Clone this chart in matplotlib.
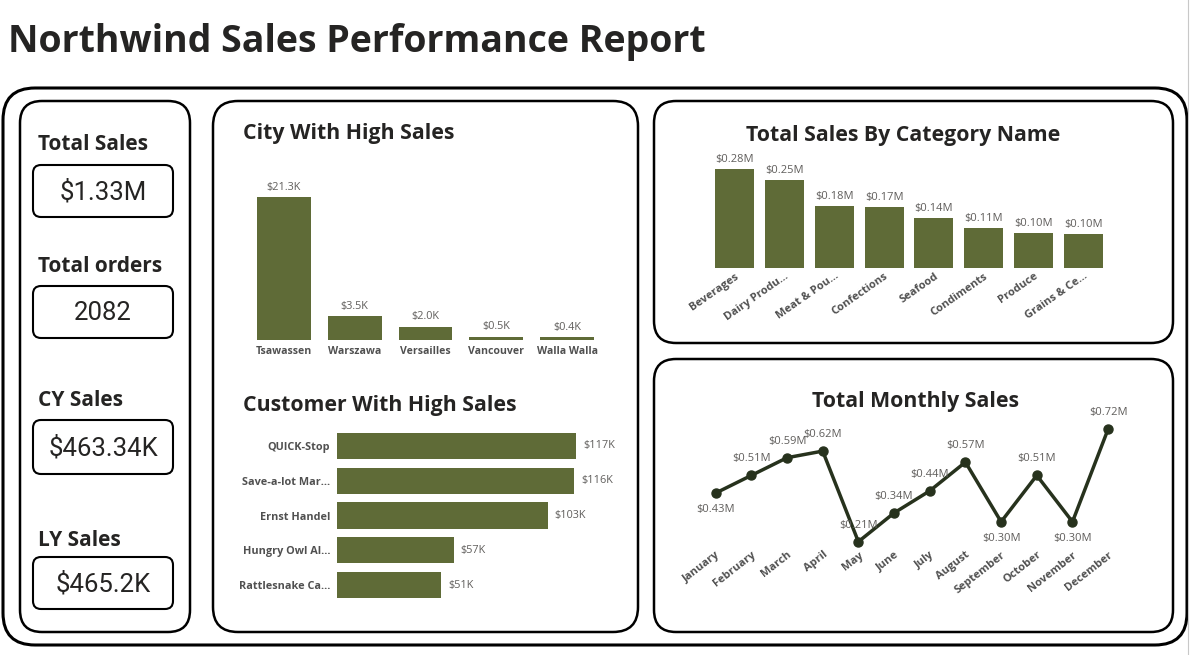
import matplotlib.pyplot as plt
from matplotlib.patches import FancyBboxPatch

plt.rcParams['font.family'] = ['Open Sans', 'DejaVu Sans']

W, H = 1199, 655

# ---- data ----
kpi_labels = ['Total Sales', 'Total orders', 'CY Sales', 'LY Sales']
kpi_values = ['$1.33M', '2082', '$463.34K', '$465.2K']

cities = ['Tsawassen', 'Warszawa', 'Versailles', 'Vancouver', 'Walla Walla']
city_sales = [21.3, 3.5, 2.0, 0.5, 0.4]  # $K

customers = ['QUICK-Stop', 'Save-a-lot Mar...', 'Ernst Handel',
             'Hungry Owl Al...', 'Rattlesnake Ca...']
customer_sales = [117, 116, 103, 57, 51]  # $K

categories = ['Beverages', 'Dairy Produ...', 'Meat & Pou...', 'Confections',
              'Seafood', 'Condiments', 'Produce', 'Grains & Ce...']
category_sales = [0.28, 0.248, 0.176, 0.173, 0.141, 0.112, 0.100, 0.096]  # $M

months = ['January', 'February', 'March', 'April', 'May', 'June', 'July',
          'August', 'September', 'October', 'November', 'December']
monthly_sales = [0.43, 0.51, 0.59, 0.62, 0.21, 0.34, 0.44, 0.57, 0.30, 0.51, 0.30, 0.72]  # $M

BAR = '#5f6b37'
LINE = '#27321d'
TITLE = '#252423'
GREY = '#605e5c'
LABEL = '#505050'

fig = plt.figure(figsize=(W / 100, H / 100), dpi=100)

# background axes in pixel units (origin top-left)
bg = fig.add_axes([0, 0, 1, 1], zorder=0)
bg.set_xlim(0, W)
bg.set_ylim(H, 0)
bg.axis('off')


def rbox(x0, y0, x1, y1, r, lw):
    bg.add_patch(FancyBboxPatch((x0, y0), x1 - x0, y1 - y0,
                                boxstyle=f'round,pad=0,rounding_size={r}',
                                fc='none', ec='black', lw=lw))


def px_axes(x0, y0, x1, y1):
    ax = fig.add_axes([x0 / W, 1 - y1 / H, (x1 - x0) / W, (y1 - y0) / H], zorder=1)
    ax.patch.set_alpha(0)
    for s in ax.spines.values():
        s.set_visible(False)
    return ax


# frames
bg.plot([1188, 1188], [0, H], color='#c8c8c8', lw=0.8)
rbox(3, 88, 1187, 645, 32, 2.2)
rbox(20, 101, 190, 632, 22, 1.8)
rbox(213, 101, 638, 632, 25, 1.8)
rbox(654, 101, 1173, 343, 22, 1.8)
rbox(654, 359, 1173, 632, 22, 1.8)

bg.text(8, 42, 'Northwind Sales Performance Report', fontsize=27, fontweight='bold',
        color=TITLE, ha='left', va='center')

# KPI cards
label_y = [145, 267, 401, 540]
card_y = [(165, 217), (286, 338), (420, 474), (557, 609)]
for lab, val, ly, (c0, c1) in zip(kpi_labels, kpi_values, label_y, card_y):
    bg.text(38, ly, lab, fontsize=15, fontweight='bold', color=TITLE, ha='left', va='center')
    rbox(33, c0, 173, c1, 8, 1.5)
    bg.text(103, (c0 + c1) / 2 + 1, val, fontsize=18.5, family='Roboto', color=TITLE,
            ha='center', va='center')

# panel titles
bg.text(243, 133, 'City With High Sales', fontsize=15.3, fontweight='bold', color=TITLE,
        ha='left', va='center')
bg.text(243, 405, 'Customer With High Sales', fontsize=15.3, fontweight='bold', color=TITLE,
        ha='left', va='center')
bg.text(903, 135, 'Total Sales By Category Name', fontsize=15.3, fontweight='bold', color=TITLE,
        ha='center', va='center')
bg.text(915, 402, 'Total Monthly Sales', fontsize=15.3, fontweight='bold', color=TITLE,
        ha='center', va='center')

# City with high sales
ax = px_axes(248.5, 172, 602.5, 340)
x = range(len(cities))
ax.bar(x, city_sales, width=0.76, color=BAR)
for i, v in enumerate(city_sales):
    ax.annotate(f'${v:.1f}K', (i, v), xytext=(0, 3), textcoords='offset points',
                ha='center', va='bottom', fontsize=7.8, color=GREY)
ax.set_ylim(0, 25)
ax.set_xlim(-0.5, len(cities) - 0.5)
ax.set_xticks(list(x), cities, fontsize=7.6, fontweight='bold', color=LABEL)
ax.tick_params(length=0, pad=4)
ax.set_yticks([])

# Customer with high sales
ax = px_axes(337, 428.6, 603, 602.4)
y = range(len(customers))
ax.barh(y, customer_sales, height=0.75, color=BAR)
for i, v in enumerate(customer_sales):
    ax.annotate(f'${v}K', (v, i), xytext=(5, 0), textcoords='offset points',
                ha='left', va='center', fontsize=7.8, color=GREY)
ax.set_xlim(0, 130)
ax.set_ylim(len(customers) - 0.5, -0.5)
ax.set_yticks(list(y), customers, fontsize=7.8, fontweight='bold', color=LABEL)
ax.tick_params(length=0, pad=5)
ax.set_xticks([])

# Total sales by category
ax = px_axes(710, 155, 1108, 268)
x = range(len(categories))
ax.bar(x, category_sales, width=0.78, color=BAR)
for i, v in enumerate(category_sales):
    ax.annotate(f'${v:.2f}M', (i, v), xytext=(0, 3), textcoords='offset points',
                ha='center', va='bottom', fontsize=8, color=GREY)
ax.set_ylim(0, 0.32)
ax.set_xlim(-0.5, len(categories) - 0.5)
ax.set_xticks(list(x), categories, fontsize=8, fontweight='bold', color=LABEL,
              rotation=35, ha='right', rotation_mode='anchor')
ax.tick_params(length=0, pad=2)
ax.set_yticks([])

# Total monthly sales
ax = px_axes(697.8, 420, 1126, 548)
x = range(len(months))
ax.plot(x, monthly_sales, color=LINE, lw=2.5, marker='o', ms=6.5, clip_on=False)
below = {0, 8, 10}
for i, v in enumerate(monthly_sales):
    dy = -12 if i in below else 12
    ax.annotate(f'${v:.2f}M', (i, v), xytext=(0, dy), textcoords='offset points',
                ha='center', va='center', fontsize=8, color=GREY)
ax.set_ylim(0.1815, 0.7607)
ax.set_xlim(-0.5, len(months) - 0.5)
ax.set_xticks(list(x), months, fontsize=8, fontweight='bold', color=LABEL,
              rotation=38, ha='right', rotation_mode='anchor')
ax.tick_params(length=0, pad=1)
ax.set_yticks([])

fig.savefig('out.png', dpi=100)
